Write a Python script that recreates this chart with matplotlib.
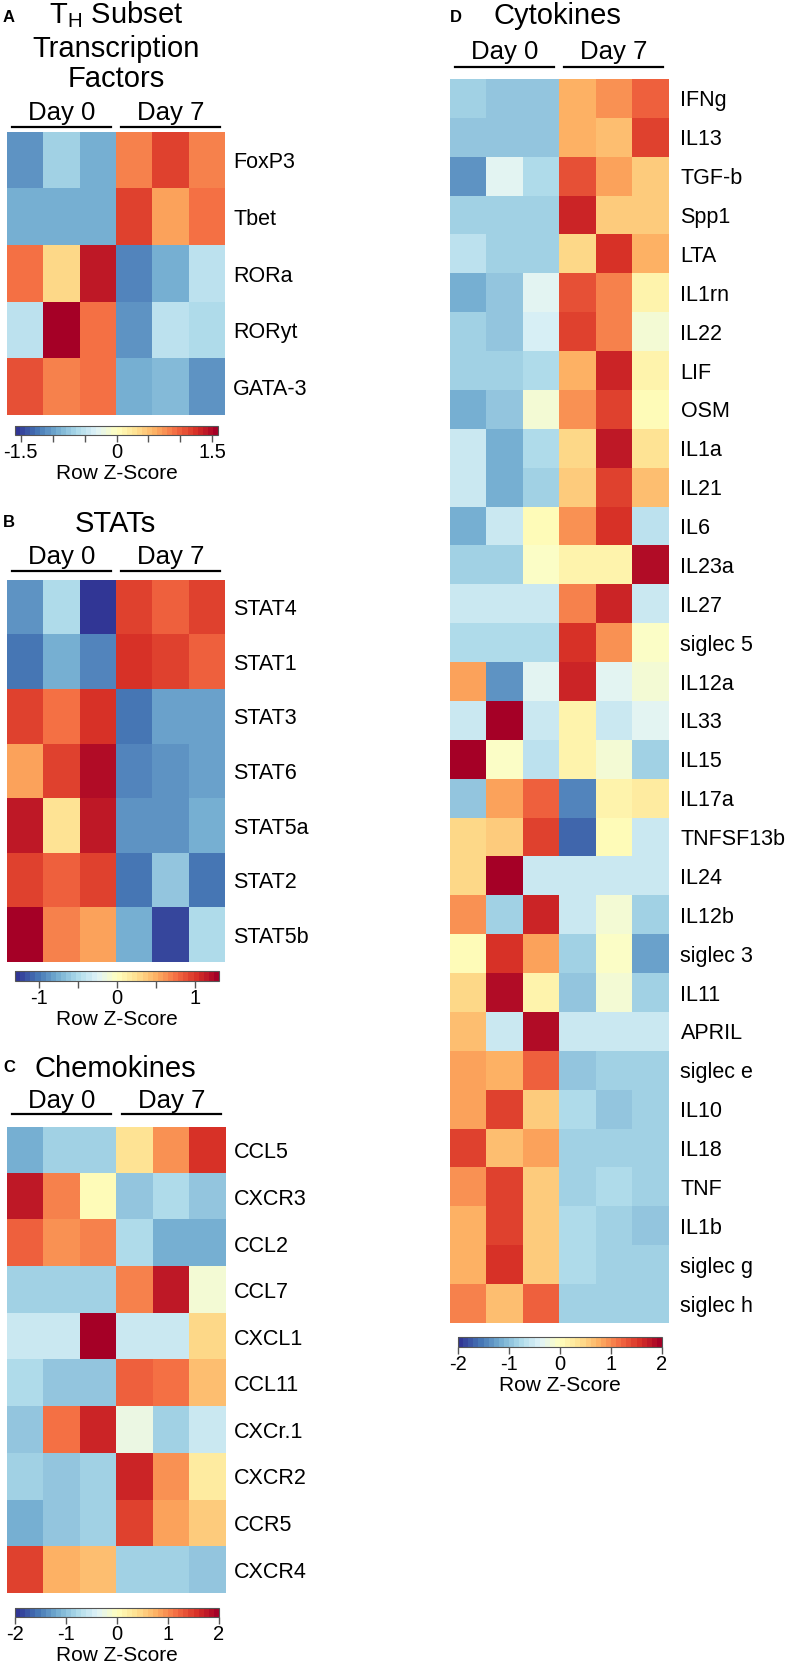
import numpy as np
import matplotlib
matplotlib.use('Agg')
import matplotlib.pyplot as plt
from matplotlib.colors import Normalize
from matplotlib.cm import ScalarMappable
from matplotlib.lines import Line2D
import matplotlib.transforms as mtrans

plt.rcParams['font.family'] = ['Liberation Sans', 'DejaVu Sans']
plt.rcParams['mathtext.fontset'] = 'custom'
plt.rcParams['mathtext.rm'] = 'Liberation Sans'

# ---------------- data ----------------
groups = ['Day 0', 'Day 7']

tf_genes = ['FoxP3', 'Tbet', 'RORa', 'RORyt', 'GATA-3']
tf_z = [
    [-1.10, -0.64, -0.95, 0.80, 1.18, 0.83],
    [-0.89, -0.95, -0.95, 1.18, 0.64, 0.95],
    [0.89, 0.32, 1.43, -1.14, -0.95, -0.48],
    [-0.48, 1.59, 0.89, -1.08, -0.48, -0.60],
    [1.05, 0.83, 0.89, -0.95, -0.80, -1.05],
]

stat_genes = ['STAT4', 'STAT1', 'STAT3', 'STAT6', 'STAT5a', 'STAT2', 'STAT5b']
stat_z = [
    [-0.91, -0.52, -1.27, 0.96, 0.78, 0.96],
    [-1.01, -0.73, -0.96, 1.01, 0.91, 0.83],
    [0.96, 0.73, 0.99, -1.04, -0.83, -0.83],
    [0.52, 0.96, 1.22, -0.94, -0.91, -0.83],
    [1.17, 0.23, 1.17, -0.91, -0.86, -0.75],
    [0.96, 0.83, 0.96, -1.01, -0.65, -1.01],
    [1.30, 0.68, 0.52, -0.78, -1.22, -0.49],
]

chemo_genes = ['CCL5', 'CXCR3', 'CCL2', 'CCL7', 'CXCL1', 'CCL11', 'CXCr.1',
               'CXCR2', 'CCR5', 'CXCR4']
chemo_z = [
    [-1.16, -0.84, -0.88, 0.36, 0.96, 1.56],
    [1.76, 1.04, 0.04, -0.96, -0.76, -0.96],
    [1.20, 0.96, 1.04, -0.72, -1.20, -1.16],
    [-0.88, -0.88, -0.88, 1.04, 1.76, -0.16],
    [-0.60, -0.60, 2.00, -0.60, -0.60, 0.48],
    [-0.72, -1.00, -1.00, 1.24, 1.12, 0.60],
    [-0.96, 1.12, 1.60, -0.28, -0.88, -0.52],
    [-0.84, -1.00, -0.84, 1.60, 0.96, 0.28],
    [-1.16, -0.96, -0.88, 1.48, 0.88, 0.56],
    [1.48, 0.72, 0.68, -0.88, -0.88, -1.00],
]

cyto_genes = ['IFNg', 'IL13', 'TGF-b', 'Spp1', 'LTA', 'IL1rn', 'IL22', 'LIF',
              'OSM', 'IL1a', 'IL21', 'IL6', 'IL23a', 'IL27', 'siglec 5',
              'IL12a', 'IL33', 'IL15', 'IL17a', 'TNFSF13b', 'IL24', 'IL12b',
              'siglec 3', 'IL11', 'APRIL', 'siglec e', 'IL10', 'IL18', 'TNF',
              'IL1b', 'siglec g', 'siglec h']
cyto_z = [
    [-0.88, -0.96, -0.96, 0.72, 0.96, 1.20],
    [-0.96, -0.96, -0.96, 0.78, 0.60, 1.40],
    [-1.40, -0.40, -0.76, 1.32, 0.80, 0.52],
    [-0.84, -0.84, -0.84, 1.60, 0.56, 0.56],
    [-0.70, -0.88, -0.88, 0.40, 1.56, 0.72],
    [-1.12, -0.96, -0.32, 1.32, 1.04, 0.12],
    [-0.88, -1.00, -0.44, 1.48, 1.04, -0.12],
    [-0.84, -0.84, -0.72, 0.78, 1.60, 0.16],
    [-1.12, -1.00, -0.12, 0.96, 1.40, 0.04],
    [-0.52, -1.20, -0.76, 0.48, 1.76, 0.32],
    [-0.60, -1.12, -0.84, 0.54, 1.48, 0.64],
    [-1.12, -0.52, 0.04, 0.96, 1.56, -0.70],
    [-0.88, -0.88, -0.08, 0.16, 0.16, 1.88],
    [-0.60, -0.60, -0.60, 1.04, 1.60, -0.60],
    [-0.72, -0.72, -0.72, 1.56, 0.96, -0.08],
    [0.80, -1.40, -0.32, 1.60, -0.32, -0.20],
    [-0.52, 2.00, -0.52, 0.10, -0.52, -0.32],
    [1.95, -0.08, -0.70, 0.16, -0.14, -0.88],
    [-1.00, 0.88, 1.20, -1.45, 0.16, 0.28],
    [0.48, 0.52, 1.48, -1.60, 0.04, -0.60],
    [0.40, 2.00, -0.52, -0.52, -0.52, -0.52],
    [0.96, -0.88, 1.60, -0.60, -0.14, -0.84],
    [0.04, 1.56, 0.80, -0.84, -0.08, -1.30],
    [0.40, 1.80, 0.16, -1.00, -0.20, -0.88],
    [0.60, -0.60, 1.88, -0.60, -0.60, -0.60],
    [0.88, 0.72, 1.20, -1.00, -0.84, -0.84],
    [0.80, 1.48, 0.52, -0.72, -1.00, -0.84],
    [1.48, 0.60, 0.80, -0.88, -0.84, -0.84],
    [0.96, 1.40, 0.52, -0.88, -0.72, -0.88],
    [0.78, 1.40, 0.56, -0.72, -0.84, -1.00],
    [0.72, 1.56, 0.52, -0.72, -0.88, -0.84],
    [1.04, 0.68, 1.20, -0.88, -0.88, -0.88],
]

# ---------------- layout helpers ----------------
W, H = 787, 1664
fig = plt.figure(figsize=(W / 100, H / 100), dpi=100)
cmap = plt.get_cmap('RdYlBu_r', 40)


def fy(y):
    return 1 - y / H


def px_axes(x0, y0, x1, y1):
    return fig.add_axes([x0 / W, 1 - y1 / H, (x1 - x0) / W, (y1 - y0) / H])


def heatmap(box, genes, values, vlim, line_y, text_y, pad=6):
    ax = px_axes(*box)
    data = np.array(values)
    ax.imshow(data, cmap=cmap, vmin=-vlim, vmax=vlim, aspect='auto',
              interpolation='nearest')
    ax.set_xticks([])
    ax.yaxis.tick_right()
    ax.set_yticks(range(len(genes)))
    ax.set_yticklabels(genes, fontsize=15.5)
    ax.tick_params(axis='y', length=0, pad=pad)
    for s in ax.spines.values():
        s.set_visible(False)
    tr = mtrans.blended_transform_factory(ax.transData, fig.transFigure)
    for i, g in enumerate(groups):
        x0 = i * 3 - 0.5 + 0.14
        x1 = i * 3 + 2.5 - 0.14
        fig.add_artist(Line2D([x0, x1], [fy(line_y)] * 2, transform=tr,
                              color='black', lw=1.6))
        fig.text((x0 + x1) / 2, fy(text_y), g, transform=tr, ha='center',
                 va='baseline', fontsize=18.5)
    ax.set_xlim(-0.5, data.shape[1] - 0.5)
    ax.set_ylim(data.shape[0] - 0.5, -0.5)
    return ax


def cbar(box, vlim, major, labels, minor=None):
    cax = px_axes(*box)
    sm = ScalarMappable(norm=Normalize(-vlim, vlim), cmap=cmap)
    cb = fig.colorbar(sm, cax=cax, orientation='horizontal')
    cb.set_ticks(major)
    cb.set_ticklabels(labels)
    if minor is not None:
        cax.set_xticks(minor, minor=True)
    cax.tick_params(which='both', direction='out', length=5, width=1,
                    color='#555555', labelsize=14.5, pad=1)
    cb.outline.set_edgecolor('#555555')
    cb.outline.set_linewidth(0.8)
    cax.set_xlabel('Row Z-Score', fontsize=15, labelpad=1)
    return cb


LETTER = 12

# ---------------- panel A ----------------
fig.text(3 / W, fy(22), 'A', fontsize=LETTER, fontweight='bold', va='baseline')
fig.text(116 / W, fy(23), r'T$_{\mathregular{H}}$ Subset', fontsize=21,
         ha='center', va='baseline')
fig.text(116 / W, fy(57), 'Transcription', fontsize=21, ha='center', va='baseline')
fig.text(116 / W, fy(87), 'Factors', fontsize=21, ha='center', va='baseline')
heatmap((7, 132, 225, 415), tf_genes, tf_z, 1.59, 127, 120)
cbar((15, 426, 218, 435), 1.59, [-1.5, 0, 1.5], ['-1.5', '0', '1.5'],
     [-1, -0.5, 0.5, 1])

# ---------------- panel B ----------------
fig.text(3 / W, fy(527), 'B', fontsize=LETTER, fontweight='bold', va='baseline')
fig.text(115 / W, fy(532), 'STATs', fontsize=21, ha='center', va='baseline')
heatmap((7, 580, 225, 962), stat_genes, stat_z, 1.3, 571, 564)
cbar((15, 971, 219, 981), 1.3, [-1, 0, 1], ['-1', '0', '1'], [-0.5, 0.5])

# ---------------- panel C ----------------
fig.text(3 / W, fy(1072), 'C', fontsize=LETTER, fontweight='bold', va='baseline')
fig.text(115 / W, fy(1077), 'Chemokines', fontsize=21, ha='center', va='baseline')
heatmap((7, 1127, 226, 1593), chemo_genes, chemo_z, 2.0, 1114, 1108)
cbar((15, 1608, 219, 1617), 2.0, [-2, -1, 0, 1, 2], ['-2', '-1', '0', '1', '2'])

# ---------------- panel D ----------------
fig.text(450 / W, fy(22), 'D', fontsize=LETTER, fontweight='bold', va='baseline')
fig.text(557 / W, fy(24), 'Cytokines', fontsize=21, ha='center', va='baseline')
heatmap((450, 79, 668, 1323), cyto_genes, cyto_z, 2.0, 67, 59, pad=9)
cbar((458, 1337, 662, 1347), 2.0, [-2, -1, 0, 1, 2], ['-2', '-1', '0', '1', '2'])

fig.savefig('out.png', dpi=100)
